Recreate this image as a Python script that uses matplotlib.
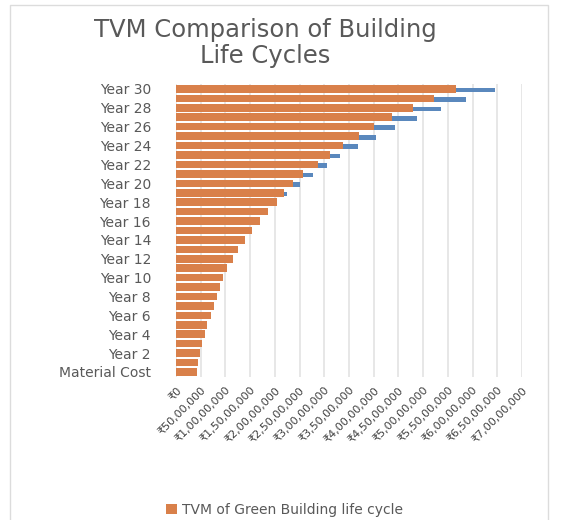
import numpy as np
import matplotlib
matplotlib.use("Agg")
import matplotlib.pyplot as plt
from matplotlib.patches import Rectangle

# categories, bottom to top
categories = ["Material Cost"] + ["Year %d" % i for i in range(1, 31)]

# values in crore rupees
green = [0.43, 0.45, 0.49, 0.53, 0.59, 0.63, 0.71, 0.77, 0.83, 0.89,
         0.95, 1.03, 1.15, 1.26, 1.40, 1.54, 1.70, 1.86, 2.04, 2.19,
         2.37, 2.57, 2.87, 3.12, 3.38, 3.70, 4.01, 4.37, 4.80, 5.22, 5.67]
conventional = [0.41, 0.43, 0.47, 0.51, 0.57, 0.61, 0.69, 0.75, 0.81, 0.87,
                0.93, 1.01, 1.13, 1.24, 1.38, 1.52, 1.68, 1.84, 2.02, 2.25,
                2.51, 2.77, 3.06, 3.32, 3.68, 4.05, 4.43, 4.88, 5.36, 5.87, 6.46]

# x ticks: 0 to 7 crore in steps of 50 lakh
tick_vals = [i * 0.5 for i in range(15)]


def inr(v):
    n = int(round(v * 1e7))
    if n == 0:
        return "\u20b90"
    s = str(n)
    last3 = s[-3:]
    rest = s[:-3]
    parts = []
    while len(rest) > 2:
        parts.insert(0, rest[-2:])
        rest = rest[:-2]
    if rest:
        parts.insert(0, rest)
    return "\u20b9" + ",".join(parts + [last3])


tick_labels = [inr(v) for v in tick_vals]

grey = "#595959"
orange = "#D9804A"
blue = "#5A88BD"

fig = plt.figure(figsize=(5.63, 5.2), dpi=100)
fig.patch.set_facecolor("white")

# thin chart border
fig.add_artist(Rectangle((10 / 563, -0.01), 538 / 563, 1 - 5 / 520 + 0.01,
                         transform=fig.transFigure, fill=False,
                         edgecolor="#dcdcdc", linewidth=1.0))

ax = fig.add_axes([176 / 563, 0.2756, 346 / 563, 0.5624])

y = np.arange(len(categories))
ax.barh(y - 0.12, conventional, height=0.5, color=blue, zorder=2)
ax.barh(y, green, height=0.8, color=orange, zorder=3,
        label="TVM of Green Building life cycle")

ax.set_xlim(0, 7)
ax.set_ylim(-0.5, len(categories) - 0.5)
ax.set_xticks(tick_vals)
ax.set_xticklabels(tick_labels, rotation=45, ha="right", rotation_mode="anchor",
                   fontsize=8, color="#404040")
ax.set_yticks(y[::2])
ax.set_yticklabels([categories[i] for i in y[::2]], fontsize=10, color=grey)
ax.tick_params(axis="x", length=0, pad=6)
ax.tick_params(axis="y", length=0, pad=18)

ax.grid(axis="x", color="#e3e3e3", linewidth=1.2, zorder=0)
ax.set_axisbelow(True)
for sp in ax.spines.values():
    sp.set_visible(False)

fig.text(265 / 563, 1 - 43 / 520, "TVM Comparison of Building\nLife Cycles",
         ha="center", va="center", fontsize=17.5, color=grey, linespacing=1.15)

handles, labels = ax.get_legend_handles_labels()
fig.legend(handles, labels, loc="center left",
           bbox_to_anchor=(160 / 563, 1 - 510 / 520), frameon=False,
           fontsize=10, labelcolor=grey, handlelength=0.8, handleheight=0.8,
           handletextpad=0.4, borderaxespad=0)

fig.savefig("out.png", dpi=100, facecolor="white")
